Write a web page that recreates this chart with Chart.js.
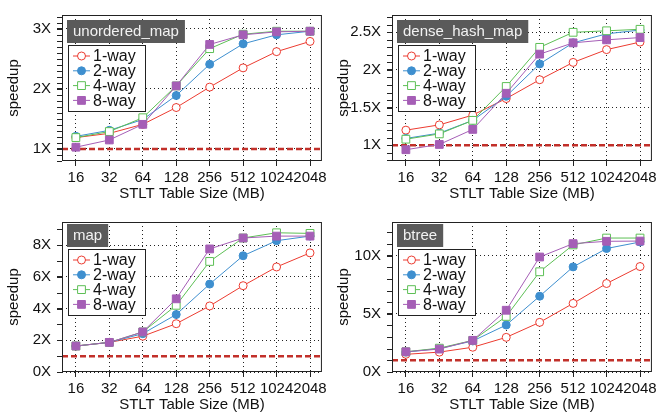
<!DOCTYPE html>
<html>
<head>
<meta charset="utf-8">
<script src="https://cdn.jsdelivr.net/npm/chart.js@4.4.1/dist/chart.umd.min.js"></script>
<style>
  body { margin: 0; background: #fff; width: 660px; height: 415px; position: relative; overflow: hidden; }
  canvas { position: absolute; }
</style>
</head>
<body>
<canvas id="c1"></canvas>
<canvas id="c2"></canvas>
<canvas id="c3"></canvas>
<canvas id="c4"></canvas>
<script>
// table sizes on the x axis and the four series names
const sizes = ['16', '32', '64', '128', '256', '512', '1024', '2048'];
const ways = ['1-way', '2-way', '4-way', '8-way'];
const baseline = 1; // 1X reference line

// unordered_map speedups
const umap1 = [1.19, 1.26, 1.41, 1.69, 2.03, 2.35, 2.62, 2.79];
const umap2 = [1.21, 1.31, 1.49, 1.89, 2.41, 2.75, 2.90, 2.96];
const umap4 = [1.19, 1.29, 1.52, 2.05, 2.67, 2.91, 2.96, 2.96];
const umap8 = [1.03, 1.15, 1.41, 2.05, 2.74, 2.90, 2.95, 2.96];
const umapTicks = [1, 2, 3];

// dense_hash_map speedups
const dense1 = [1.20, 1.27, 1.40, 1.62, 1.87, 2.10, 2.27, 2.37];
const dense2 = [1.09, 1.16, 1.33, 1.65, 2.08, 2.36, 2.48, 2.53];
const dense4 = [1.08, 1.15, 1.33, 1.78, 2.30, 2.50, 2.52, 2.54];
const dense8 = [0.94, 1.01, 1.21, 1.69, 2.21, 2.36, 2.40, 2.43];
const denseTicks = [1, 1.5, 2, 2.5];

// map speedups
const map1 = [1.64, 1.87, 2.26, 3.05, 4.17, 5.45, 6.63, 7.52];
const map2 = [1.64, 1.87, 2.42, 3.63, 5.55, 7.34, 8.29, 8.58];
const map4 = [1.64, 1.87, 2.53, 4.21, 6.98, 8.46, 8.79, 8.75];
const map8 = [1.64, 1.87, 2.53, 4.62, 7.77, 8.46, 8.58, 8.58];
const mapTicks = [0, 2, 4, 6, 8];

// btree speedups
const btree1 = [1.52, 1.71, 2.13, 2.98, 4.27, 5.90, 7.61, 9.07];
const btree2 = [1.71, 2.02, 2.67, 4.04, 6.52, 9.04, 10.62, 11.18];
const btree4 = [1.74, 2.05, 2.72, 4.78, 8.62, 10.93, 11.52, 11.52];
const btree8 = [1.74, 1.97, 2.72, 5.31, 9.89, 11.04, 11.24, 11.26];
const btreeTicks = [0, 5, 10];

const colors = ['#ec3b30', '#3e8fcf', '#5dbf55', '#a55eb6'];
const filled = [false, true, false, true];
const shapes = ['circle', 'circle', 'rect', 'rect'];

Chart.defaults.font.family = '"Liberation Sans", Arial, Helvetica, sans-serif';
Chart.defaults.color = '#111';

const FONT = '"Liberation Sans", Arial, Helvetica, sans-serif';

function marker(ctx, shape, x, y, color, fill) {
    ctx.save();
    ctx.lineWidth = 1;
    ctx.strokeStyle = color;
    ctx.fillStyle = fill ? color : '#fff';
    ctx.beginPath();
    if (shape === 'circle') ctx.arc(x, y, 4, 0, Math.PI * 2);
    else ctx.rect(x - 3.9, y - 3.9, 7.8, 7.8);
    ctx.fill();
    ctx.stroke();
    ctx.restore();
}

// frame, 1X line, minor ticks, name box and legend
const decor = {
    id: 'decor',
    beforeDatasetsDraw(chart, args, o) {
        const { ctx, chartArea: a } = chart;
        const py = chart.scales.y.getPixelForValue(baseline);
        ctx.save();
        ctx.strokeStyle = '#c2302a';
        ctx.lineWidth = 2.5;
        ctx.setLineDash([6, 3]);
        ctx.beginPath();
        ctx.moveTo(a.left, py);
        ctx.lineTo(a.right, py);
        ctx.stroke();
        ctx.restore();
    },
    afterDraw(chart, args, o) {
        const { ctx, chartArea: a } = chart;
        const y = chart.scales.y;
        ctx.save();

        // frame
        ctx.strokeStyle = '#222';
        ctx.lineWidth = 1;
        ctx.strokeRect(a.left + 0.5, a.top + 0.5, a.right - a.left - 1, a.bottom - a.top - 1);

        // minor ticks on the left axis
        ctx.beginPath();
        for (let k = Math.ceil(y.min / o.minor); k * o.minor <= y.max; k++) {
            const py = Math.round(y.getPixelForValue(k * o.minor)) + 0.5;
            ctx.moveTo(a.left - 5, py);
            ctx.lineTo(a.left, py);
        }
        ctx.stroke();

        // name box
        ctx.font = '15px ' + FONT;
        const tw = ctx.measureText(o.name).width;
        const bx = a.left + 5, by = a.top + o.boxTop;
        ctx.fillStyle = '#5a5a5a';
        ctx.fillRect(bx, by, tw + 12, 23);
        ctx.fillStyle = '#f2f2f2';
        ctx.textBaseline = 'middle';
        ctx.fillText(o.name, bx + 6, by + 12);

        // legend
        const lx = a.left + 6, ly = by + 25;
        ctx.fillStyle = '#fff';
        ctx.fillRect(lx, ly, 77, 66);
        ctx.strokeStyle = '#222';
        ctx.strokeRect(lx + 0.5, ly + 0.5, 77, 66);
        ctx.font = '16px ' + FONT;
        ways.forEach((w, i) => {
            const yy = ly + 11 + i * 14.8;
            ctx.strokeStyle = colors[i];
            ctx.beginPath();
            ctx.moveTo(lx + 5, yy);
            ctx.lineTo(lx + 22, yy);
            ctx.stroke();
            marker(ctx, shapes[i], lx + 13.5, yy, colors[i], filled[i]);
            ctx.fillStyle = '#111';
            ctx.fillText(w, lx + 25, yy + 1);
        });
        ctx.restore();
    }
};

const panels = [
    { id: 'c1', x: 0, y: 0, h: 207, padTop: 5, xh: 46, boxTop: 5, name: 'unordered_map',
      series: [umap1, umap2, umap4, umap8], ticks: umapTicks, min: 0.8, max: 3.23, minor: 0.1 },
    { id: 'c2', x: 330, y: 0, h: 207, padTop: 5, xh: 46, boxTop: 5, name: 'dense_hash_map',
      series: [dense1, dense2, dense4, dense8], ticks: denseTicks, min: 0.79, max: 2.73, minor: 0.1 },
    { id: 'c3', x: 0, y: 207, h: 208, padTop: 12, xh: 43, boxTop: 2, name: 'map',
      series: [map1, map2, map4, map8], ticks: mapTicks, min: 0, max: 9.47, minor: 1 },
    { id: 'c4', x: 330, y: 207, h: 208, padTop: 12, xh: 43, boxTop: 2, name: 'btree',
      series: [btree1, btree2, btree4, btree8], ticks: btreeTicks, min: 0, max: 12.9, minor: 1 }
];

panels.forEach(p => {
    const canvas = document.getElementById(p.id);
    canvas.width = 330;
    canvas.height = p.h;
    canvas.style.left = p.x + 'px';
    canvas.style.top = p.y + 'px';

    new Chart(canvas, {
        type: 'line',
        data: {
            datasets: p.series.map((vals, i) => ({
                label: ways[i],
                data: vals.map((v, j) => ({ x: j, y: v })),
                borderColor: colors[i],
                borderWidth: 1,
                pointStyle: shapes[i],
                pointRadius: shapes[i] === 'rect' ? 5.5 : 4,
                pointBorderWidth: 1,
                pointBorderColor: colors[i],
                pointBackgroundColor: filled[i] ? colors[i] : '#fff',
                tension: 0,
                order: 3 - i
            }))
        },
        options: {
            responsive: false,
            animation: false,
            devicePixelRatio: 1,
            layout: { padding: { top: p.padTop, right: 6, bottom: 0, left: 0 } },
            plugins: {
                legend: { display: false },
                tooltip: { enabled: false },
                decor: { name: p.name, minor: p.minor, boxTop: p.boxTop }
            },
            scales: {
                x: {
                    type: 'linear',
                    min: -0.415,
                    max: 7.356,
                    afterBuildTicks: s => { s.ticks = sizes.map((_, i) => ({ value: i })); },
                    afterFit: s => { s.height = p.xh; },
                    ticks: {
                        callback: v => sizes[v],
                        font: { size: 15 },
                        color: '#111',
                        padding: 3,
                        maxRotation: 0,
                        autoSkip: false
                    },
                    grid: { color: '#222', lineWidth: 1, drawTicks: true, tickLength: 5, tickColor: '#222', tickBorderDash: [] },
                    border: { display: false, dash: [1, 3] },
                    title: { display: true, text: 'STLT Table Size (MB)', font: { size: 15 }, color: '#111',
                             padding: { top: 0, bottom: p.xh - 42 } }
                },
                y: {
                    min: p.min,
                    max: p.max,
                    afterBuildTicks: s => { s.ticks = p.ticks.map(v => ({ value: v })); },
                    afterFit: s => { s.width = 62; },
                    ticks: {
                        callback: v => v + 'X',
                        font: { size: 15 },
                        color: '#111',
                        padding: 6
                    },
                    grid: { color: '#222', lineWidth: 1, drawTicks: true, tickLength: 5, tickColor: '#222', tickBorderDash: [] },
                    border: { display: false, dash: [1, 3] },
                    title: { display: true, text: 'speedup', font: { size: 15 }, color: '#111',
                             padding: { top: 5, bottom: 0 } }
                }
            }
        },
        plugins: [decor]
    });
});
</script>
</body>
</html>
